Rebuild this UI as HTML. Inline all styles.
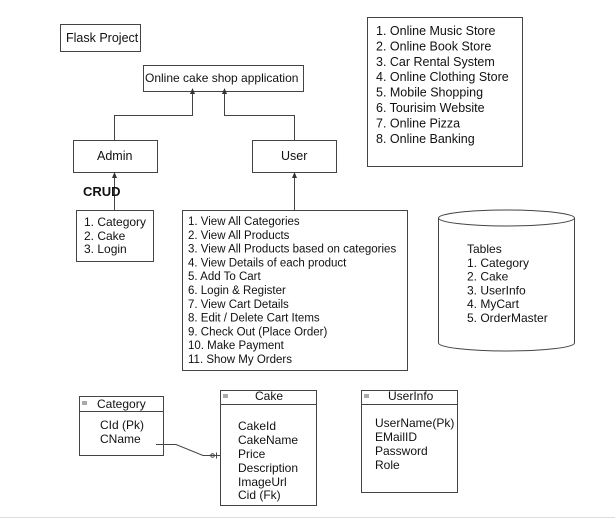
<!DOCTYPE html>
<html><head><style>
html,body{margin:0;padding:0;background:#fff;}
svg{display:block;font-family:"Liberation Sans",Arial,sans-serif;}
text{fill:#111;}
</style></head><body>
<svg width="615" height="520" viewBox="0 0 615 520" xmlns="http://www.w3.org/2000/svg">
<g fill="none" stroke="#444" stroke-width="1">
<rect x="60.5" y="24.5" width="80" height="27"/>
<rect x="143.5" y="65.5" width="160" height="26"/>
<rect x="73.5" y="140.5" width="84" height="32"/>
<rect x="252.5" y="140.5" width="84" height="32"/>
<rect x="76.5" y="210.5" width="77" height="51"/>
<rect x="182.5" y="210.5" width="225" height="160"/>
<rect x="367.5" y="17.5" width="155" height="149"/>
<path d="M114.5 140 V115.5 H192.5 V94"/>
<path d="M294.5 140 V115.5 H224.5 V94"/>
<path d="M114.5 210 V175"/>
<path d="M294.5 210 V175"/>
<path d="M438.5 218 V343 A68 8 0 0 0 574.5 343 V218"/>
<ellipse cx="506.5" cy="218" rx="68" ry="8"/>
<rect x="79.5" y="396.5" width="84" height="59"/>
<line x1="79.5" y1="411.5" x2="163.5" y2="411.5"/>
<rect x="220.5" y="390.5" width="96" height="115"/>
<line x1="220.5" y1="404.5" x2="316.5" y2="404.5"/>
<rect x="361.5" y="390.5" width="96" height="102"/>
<line x1="361.5" y1="404.5" x2="457.5" y2="404.5"/>
<path d="M156 444.5 H176 L203 455.5 H220"/>
<circle cx="212.5" cy="455.5" r="1.8"/>
<line x1="216.5" y1="452.5" x2="216.5" y2="458.5"/>
</g>
<line x1="0" y1="517.5" x2="615" y2="517.5" stroke="#ddd"/>
<g fill="#333">
<path d="M192.5 88 L190 94 L195 94Z"/>
<path d="M224.5 88 L222 94 L227 94Z"/>
<path d="M114.5 172 L112 178 L117 178Z"/>
<path d="M294.5 172 L292 178 L297 178Z"/>
</g>
<g fill="#aaa">
<rect x="82" y="401" width="5" height="4"/>
<rect x="223" y="394" width="5" height="4"/>
<rect x="364" y="394" width="5" height="4"/>
</g>
<g font-size="12.5">
<text x="66" y="42">Flask Project</text>
<text x="145" y="82" font-size="12">Online cake shop application</text>
<text x="97" y="160">Admin</text>
<text x="281" y="160">User</text>
</g>
<text x="83" y="196" font-size="13" font-weight="bold">CRUD</text>
<g font-size="12">
<text x="84" y="226">1. Category</text>
<text x="84" y="240">2. Cake</text>
<text x="84" y="253">3. Login</text>
</g>
<g font-size="11.5">
<text x="188" y="225">1. View All Categories</text>
<text x="188" y="238.8">2. View All Products</text>
<text x="188" y="252.6">3. View All Products based on categories</text>
<text x="188" y="266.4">4. View Details of each product</text>
<text x="188" y="280.2">5. Add To Cart</text>
<text x="188" y="294">6. Login &amp; Register</text>
<text x="188" y="307.8">7. View Cart Details</text>
<text x="188" y="321.6">8. Edit / Delete Cart Items</text>
<text x="188" y="335.4">9. Check Out (Place Order)</text>
<text x="188" y="349.2">10. Make Payment</text>
<text x="188" y="363">11. Show My Orders</text>
</g>
<g font-size="12.5">
<text x="376" y="35">1. Online Music Store</text>
<text x="376" y="50.4">2. Online Book Store</text>
<text x="376" y="65.8">3. Car Rental System</text>
<text x="376" y="81.2">4. Online Clothing Store</text>
<text x="376" y="96.6">5. Mobile Shopping</text>
<text x="376" y="112">6. Tourisim Website</text>
<text x="376" y="127.4">7. Online Pizza</text>
<text x="376" y="142.8">8. Online Banking</text>
</g>
<g font-size="12">
<text x="467" y="253">Tables</text>
<text x="467" y="266.8">1. Category</text>
<text x="467" y="280.6">2. Cake</text>
<text x="467" y="294.4">3. UserInfo</text>
<text x="467" y="308.2">4. MyCart</text>
<text x="467" y="322">5. OrderMaster</text>
</g>
<g font-size="12">
<text x="97" y="408">Category</text>
<text x="100" y="429">CId (Pk)</text>
<text x="100" y="443">CName</text>
<text x="255" y="400">Cake</text>
<text x="238" y="430">CakeId</text>
<text x="238" y="444">CakeName</text>
<text x="238" y="458">Price</text>
<text x="238" y="472">Description</text>
<text x="238" y="486">ImageUrl</text>
<text x="238" y="499">Cid (Fk)</text>
<text x="388" y="400">UserInfo</text>
<text x="375" y="427">UserName(Pk)</text>
<text x="375" y="441">EMailID</text>
<text x="375" y="455">Password</text>
<text x="375" y="469">Role</text>
</g>
</svg>
</body></html>
